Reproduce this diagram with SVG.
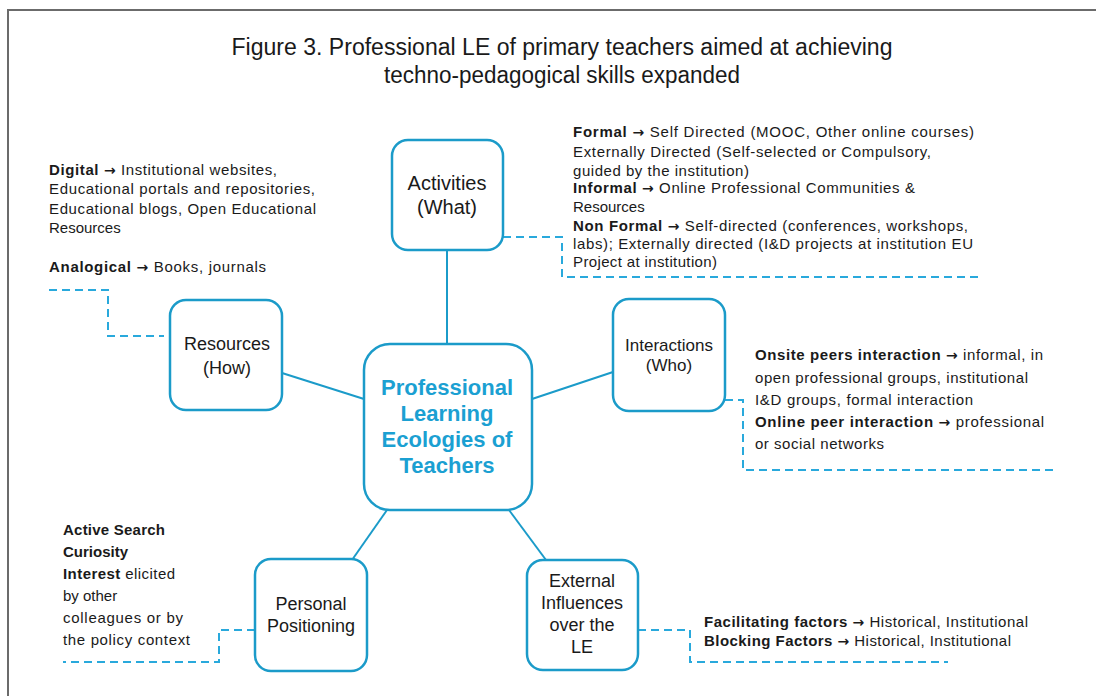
<svg xmlns="http://www.w3.org/2000/svg" width="1096" height="696" viewBox="0 0 1096 696">
<style>
.frame{stroke:#6b6b6b;stroke-width:2;fill:none}
.node{fill:#fff;stroke:#1b9bc9;stroke-width:2.5}
.link{stroke:#1b9bc9;stroke-width:2;fill:none}
.dash{stroke:#29a9dc;stroke-width:2;fill:none;stroke-dasharray:8 5}
.title{font-family:"Liberation Sans",Arial,sans-serif;font-size:23px;fill:#1a1a1a;text-anchor:middle}
.lbl{font-family:"Liberation Sans",Arial,sans-serif;fill:#1a1a1a;text-anchor:middle}
.center{font-family:"Liberation Sans",Arial,sans-serif;font-size:22px;font-weight:bold;fill:#1ba0d2;text-anchor:middle}
.t{font-family:"Liberation Sans",Arial,sans-serif;font-size:15px;fill:#1a1a1a}
.b{font-weight:bold}
.ar{font-family:"DejaVu Sans",sans-serif;font-weight:bold;font-size:14px}
</style>
<path class="frame" d="M8 697 V10 H1096"/>
<g id="title">
<text class="title" x="562" y="55" textLength="661" lengthAdjust="spacingAndGlyphs">Figure 3. Professional LE of primary teachers aimed at achieving</text>
<text class="title" x="562" y="83" textLength="356" lengthAdjust="spacingAndGlyphs">techno-pedagogical skills expanded</text>
</g>
<g id="connectors">
<line class="link" x1="447" y1="250" x2="447" y2="344"/>
<line class="link" x1="282" y1="373" x2="364" y2="399"/>
<line class="link" x1="532" y1="399" x2="613" y2="372"/>
<line class="link" x1="352" y1="560" x2="387" y2="510"/>
<line class="link" x1="509" y1="510" x2="546" y2="560"/>
<path class="dash" d="M503 237 H562 V277 H978"/>
<path class="dash" d="M49 290 H108 V336 H164"/>
<path class="dash" d="M725 400 H743 V470 H1055"/>
<path class="dash" d="M255 630 H219 V662 H63"/>
<path class="dash" d="M638 630 H690 V662 H948"/>
</g>
<g id="central">
<rect class="node" x="364" y="344" width="168" height="166" rx="26"/>
<text class="center" x="447" y="395">Professional</text>
<text class="center" x="447" y="421">Learning</text>
<text class="center" x="447" y="447">Ecologies of</text>
<text class="center" x="447" y="473">Teachers</text>
</g>
<g id="activities">
<rect class="node" x="392" y="140" width="111" height="110" rx="16"/>
<text class="lbl" x="447" y="190" font-size="20">Activities</text>
<text class="lbl" x="447" y="214" font-size="20">(What)</text>
</g>
<g id="resources">
<rect class="node" x="170" y="300" width="112" height="110" rx="16"/>
<text class="lbl" x="227" y="350" font-size="18">Resources</text>
<text class="lbl" x="227" y="374" font-size="18">(How)</text>
</g>
<g id="interactions">
<rect class="node" x="613" y="299" width="112" height="112" rx="16"/>
<text class="lbl" x="669" y="351" font-size="17">Interactions</text>
<text class="lbl" x="669" y="371" font-size="17">(Who)</text>
</g>
<g id="personal">
<rect class="node" x="255" y="559" width="112" height="112" rx="16"/>
<text class="lbl" x="311" y="610" font-size="18">Personal</text>
<text class="lbl" x="311" y="632" font-size="18">Positioning</text>
</g>
<g id="external">
<rect class="node" x="527" y="560" width="111" height="110" rx="16"/>
<text class="lbl" x="582" y="587" font-size="18">External</text>
<text class="lbl" x="582" y="609" font-size="18">Influences</text>
<text class="lbl" x="582" y="631" font-size="18">over the</text>
<text class="lbl" x="582" y="653" font-size="18">LE</text>
</g>
<g id="note-resources">
<text class="t" x="49" y="175" textLength="228"><tspan class="b">Digital</tspan> <tspan class="ar">→</tspan> Institutional websites,</text>
<text class="t" x="49" y="194" textLength="266">Educational portals and repositories,</text>
<text class="t" x="49" y="214" textLength="267">Educational blogs, Open Educational</text>
<text class="t" x="49" y="233">Resources</text>
<text class="t" x="49" y="272" textLength="217"><tspan class="b">Analogical</tspan> <tspan class="ar">→</tspan> Books, journals</text>
</g>
<g id="note-activities">
<text class="t" x="573" y="137" textLength="401"><tspan class="b">Formal</tspan> <tspan class="ar">→</tspan> Self Directed (MOOC, Other online courses)</text>
<text class="t" x="573" y="157" textLength="358">Externally Directed (Self-selected or Compulsory,</text>
<text class="t" x="573" y="176" textLength="176">guided by the institution)</text>
<text class="t" x="573" y="193" textLength="342"><tspan class="b">Informal</tspan> <tspan class="ar">→</tspan> Online Professional Communities &amp;</text>
<text class="t" x="573" y="212">Resources</text>
<text class="t" x="573" y="231" textLength="395"><tspan class="b">Non Formal</tspan> <tspan class="ar">→</tspan> Self-directed (conferences, workshops,</text>
<text class="t" x="573" y="249" textLength="400">labs); Externally directed (I&amp;D projects at institution EU</text>
<text class="t" x="573" y="267" textLength="144">Project at institution)</text>
</g>
<g id="note-interactions">
<text class="t" x="755" y="360" textLength="288"><tspan class="b">Onsite peers interaction</tspan> <tspan class="ar">→</tspan> informal, in</text>
<text class="t" x="755" y="383" textLength="273">open professional groups, institutional</text>
<text class="t" x="755" y="405" textLength="218">I&amp;D groups, formal interaction</text>
<text class="t" x="755" y="427" textLength="289"><tspan class="b">Online peer interaction</tspan> <tspan class="ar">→</tspan> professional</text>
<text class="t" x="755" y="449" textLength="129">or social networks</text>
</g>
<g id="note-personal">
<text class="t b" x="63" y="535" textLength="102">Active Search</text>
<text class="t b" x="63" y="557">Curiosity</text>
<text class="t" x="63" y="579" textLength="112"><tspan class="b">Interest</tspan> elicited</text>
<text class="t" x="63" y="601">by other</text>
<text class="t" x="63" y="623" textLength="120">colleagues or by</text>
<text class="t" x="63" y="645" textLength="127">the policy context</text>
</g>
<g id="note-external">
<text class="t" x="704" y="627" textLength="324"><tspan class="b">Facilitating factors</tspan> <tspan class="ar">→</tspan> Historical, Institutional</text>
<text class="t" x="704" y="646" textLength="307"><tspan class="b">Blocking Factors</tspan> <tspan class="ar">→</tspan> Historical, Institutional</text>
</g>
</svg>
